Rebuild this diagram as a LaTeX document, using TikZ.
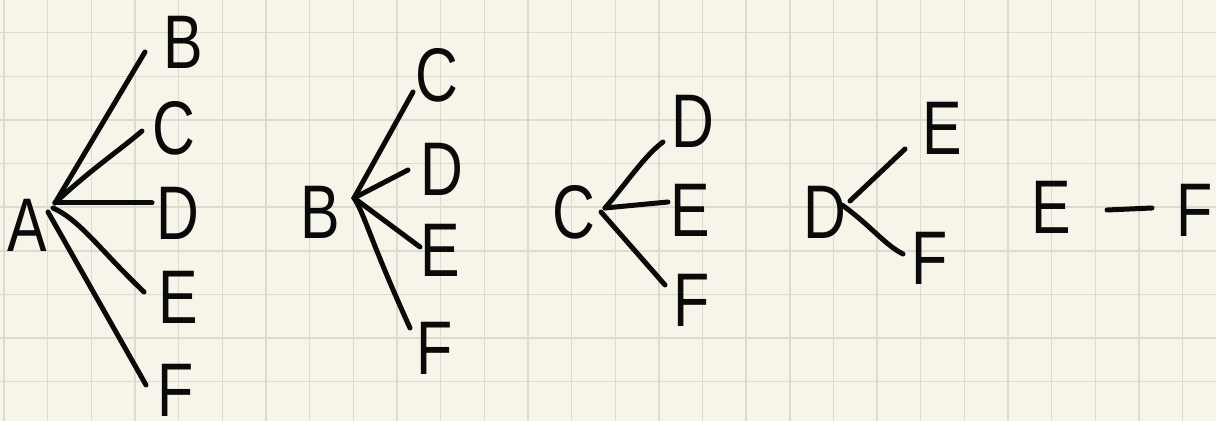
\documentclass[tikz,border=0pt]{standalone}
\usepackage{fontspec}
\setmainfont{Liberation Sans}
\definecolor{paper}{HTML}{F7F5E9}
\definecolor{gridc}{HTML}{DCDBCF}
\definecolor{ink}{HTML}{0A0A0A}
\tikzset{
  letter/.style={inner sep=0pt, text=ink, font=\fontsize{38}{38}\selectfont},
  edge/.style={draw=ink, line width=2.5pt, line cap=round, line join=round},
  gridline/.style={draw=gridc, line width=0.7pt}
}
\newcommand{\hw}[1]{\scalebox{0.78}[1]{#1}}
\begin{document}
\begin{tikzpicture}[x=0.5pt,y=-0.5pt]
\fill[paper] (0,0) rectangle (1216,421);
\useasboundingbox (0,0) rectangle (1216,421);
% grid
\foreach \k in {0,...,27} {\draw[gridline] ({4.1+43.65*\k},0) -- ({4.1+43.65*\k},421);}
\foreach \k in {0,...,8} {\draw[gridline] (0,{32.6+43.65*\k}) -- (1216,{32.6+43.65*\k});}

% ---- tree A
\node[letter] (A)  at (27,225) {\hw{A}};
\node[letter] (AB) at (183,42) {\hw{B}};
\node[letter] (AC) at (174,128) {\hw{C}};
\node[letter] (AD) at (178,213) {\hw{D}};
\node[letter] (AE) at (178,297) {\hw{E}};
\node[letter] (AF) at (176,390) {\hw{F}};
\coordinate (rA1) at (55,203);
\coordinate (rA2) at (53,208);
\coordinate (rA3) at (48,212);
\coordinate (eAB) at (145,52);
\coordinate (eAC) at (142,131);
\coordinate (eAD) at (152,203);
\coordinate (eAE) at (144,292);
\coordinate (eAF) at (146,385);
\draw[edge] (rA1) -- (eAB);
\draw[edge] (rA1) .. controls (90,170) and (120,150) .. (eAC);
\draw[edge] (rA1) -- (eAD);
\draw[edge] (rA2) .. controls (80,220) and (100,250) .. (eAE);
\draw[edge] (rA3) -- (eAF);

% ---- tree B
\node[letter] (B)  at (320,212) {\hw{B}};
\node[letter] (BC) at (437,75) {\hw{C}};
\node[letter] (BD) at (442,169) {\hw{D}};
\node[letter] (BE) at (440,250) {\hw{E}};
\node[letter] (BF) at (435,348) {\hw{F}};
\coordinate (rB) at (354,198);
\coordinate (eBC) at (413,92);
\coordinate (eBD) at (408,170);
\coordinate (eBE) at (420,247);
\coordinate (eBF) at (410,328);
\draw[edge] (rB) -- (eBC);
\draw[edge] (rB) -- (eBD);
\draw[edge] (rB) -- (eBE);
\draw[edge] (rB) .. controls (365,215) and (370,240) .. (eBF);

% ---- tree C
\node[letter] (C)  at (574,212) {\hw{C}};
\node[letter] (CD) at (693,121) {\hw{D}};
\node[letter] (CE) at (690,210) {\hw{E}};
\node[letter] (CF) at (692,300) {\hw{F}};
\coordinate (rC1) at (605,208);
\coordinate (rC2) at (601,212);
\coordinate (eCD) at (663,142);
\coordinate (eCE) at (668,202);
\coordinate (eCF) at (665,285);
\draw[edge] (rC1) .. controls (625,185) and (645,155) .. (eCD);
\draw[edge] (rC1) -- (eCE);
\draw[edge] (rC2) -- (eCF);

% ---- tree D
\node[letter] (D)  at (825,212) {\hw{D}};
\node[letter] (DE) at (942,128) {\hw{E}};
\node[letter] (DF) at (930,258) {\hw{F}};
\coordinate (rD1) at (850,201);
\coordinate (rD2) at (842,205);
\coordinate (eDE) at (905,149);
\coordinate (eDF) at (903,254);
\draw[edge] (rD1) -- (eDE);
\draw[edge] (rD2) .. controls (870,225) and (885,245) .. (eDF);

% ---- E - F
\node[letter] (E)  at (1051,207) {\hw{E}};
\node[letter] (F)  at (1195,210) {\hw{F}};
\coordinate (sEF) at (1107,210);
\coordinate (eEF) at (1152,208);
\draw[edge] (sEF) -- (eEF);
\end{tikzpicture}
\end{document}
